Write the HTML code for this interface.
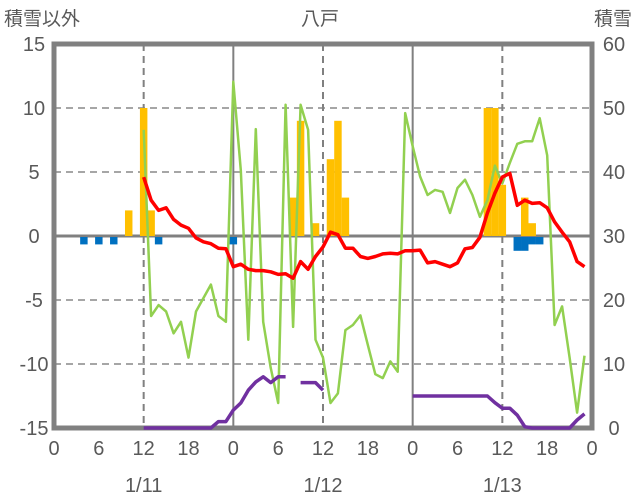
<!DOCTYPE html>
<html><head><meta charset="utf-8"><style>
body{margin:0;background:#fff;}
svg{display:block;font-family:"Liberation Sans","Noto Sans CJK JP",sans-serif;}
</style></head><body>
<svg id="chart" width="636" height="501" viewBox="0 0 636 501">
<g id="grid"></g>
<g id="bars"></g>
<g id="frame"></g>
<g id="lines"></g>
<g id="labels"></g>
<text x="4" y="25" font-size="19" fill="#595959">積雪以外</text>
<text x="320" y="25" font-size="19" fill="#595959" text-anchor="middle">八戸</text>
<text x="632" y="25" font-size="19" fill="#595959" text-anchor="end">積雪</text>
</svg>
<script>
const N=null;
const hourTicks=["0","6","12","18","0","6","12","18","0","6","12","18","0"];
const dateLabels=["1/11","1/12","1/13"];
const leftTicks=[15,10,5,0,-5,-10,-15];
const rightTicks=[60,50,40,30,20,10,0];
const tempSeries=[N,N,N,N,N,N,N,N,N,N,N,N,4.6,2.8,2.0,2.2,1.3,0.85,0.6,-0.15,-0.45,-0.6,-0.95,-1.0,
-2.4,-2.2,-2.6,-2.7,-2.7,-2.8,-3.0,-2.95,-3.3,-2.0,-2.6,-1.6,-0.85,0.3,0.1,-0.95,-0.95,-1.6,-1.75,-1.6,-1.4,-1.35,-1.4,-1.15,
-1.15,-1.1,-2.1,-2.0,-2.2,-2.4,-2.1,-1.0,-0.9,-0.1,1.8,3.35,4.6,4.9,2.4,2.8,2.55,2.6,2.2,1.1,0.3,-0.45,-2.0,-2.4];
const greenSeries=[N,N,N,N,N,N,N,N,N,N,N,N,8.3,-6.25,-5.4,-5.9,-7.6,-6.7,-9.5,-5.9,-4.85,-3.8,-6.25,-6.7,
12.05,5.15,-8.1,8.35,-6.7,-10.3,-13.05,10.25,-7.1,10.25,8.3,-8.1,-9.5,-13.05,-12.3,-7.35,-6.95,-6.2,-8.5,-10.8,-11.1,-9.8,-10.6,9.6,
7.0,4.65,3.2,3.6,3.45,1.8,3.75,4.4,3.2,1.5,2.8,5.5,4.1,5.7,7.2,7.4,7.4,9.2,6.3,-6.95,-5.5,-9.5,-13.8,-9.35];
const snowDepth=[N,N,N,N,N,N,N,N,N,N,N,N,0,0,0,0,0,0,0,0,0,0,1,1,
2.8,3.9,5.9,7.2,8.0,7.1,8.0,8.0,N,7.1,7.1,7.1,5.9,N,N,N,N,N,N,N,N,N,N,N,
5,5,5,5,5,5,5,5,5,5,5,3.95,3.1,3.1,2.0,0.2,0,0,0,0,0,0,1.25,2.2];
const snowfallHours=[10,12,13,32,33,35,37,38,39,58,59,60,63,64];
const snowfallValues=[2,10,2,3,9,1,6,9,3,10,10,4,3,1];
const negHours=[4,6,8,14,24,62,63,64,65];
const negValues=[-0.5,-0.5,-0.5,-0.5,-0.5,-1.0,-1.0,-0.5,-0.5];

const X0=54,X1=592,Y0=44,Y1=428;
const xs=h=>X0+h*(X1-X0)/72;
const yl=v=>Y0+(15-v)*(Y1-Y0)/30;
const yr=v=>Y1-v*(Y1-Y0)/60;
const NS="http://www.w3.org/2000/svg";
function mk(tag,parent,attrs){const e=document.createElementNS(NS,tag);for(const k in attrs)e.setAttribute(k,attrs[k]);document.getElementById(parent).appendChild(e);return e;}

leftTicks.forEach(v=>{if(v===15||v===-15)return;
 const l=mk('line','grid',{x1:X0,x2:X1,y1:yl(v),y2:yl(v),stroke:v===0?'#808080':'#a6a6a6','stroke-width':v===0?3:2,'stroke-dasharray':v===0?'':'7,5'});
 
 });
for(let h=12;h<72;h+=12){
 const solid=h%24===0;
 const l=mk('line','grid',{x1:xs(h),x2:xs(h),y1:Y0,y2:Y1,stroke:'#808080','stroke-width':2,'stroke-dasharray':solid?'':'7,5'});
 
 }

const bw=(X1-X0)/72;
snowfallHours.forEach((h,i)=>{const v=snowfallValues[i];
 const r=mk('rect','bars',{x:xs(h)-bw/2,y:yl(v),width:bw,height:yl(0)-yl(v),fill:'#ffc000'});
 
 });
negHours.forEach((h,i)=>{const v=negValues[i];
 const r=mk('rect','bars',{x:xs(h)-bw/2,y:yl(0)+1,width:bw,height:yl(v)-yl(0)+1,fill:'#0070c0'});
 
 });

const f=mk('rect','frame',{x:X0,y:Y0,width:X1-X0,height:Y1-Y0,fill:'none',stroke:'#808080','stroke-width':5});



function drawLine(arr,yf,color,name,w){
 let d='';let pen=false;
 arr.forEach((v,h)=>{if(v===null){pen=false;return;}d+=(pen?'L':'M')+xs(h).toFixed(1)+','+yf(v).toFixed(1);pen=true;});
 const p=mk('path','lines',{d:d,fill:'none',stroke:color,'stroke-width':w,'stroke-linejoin':'round'});
 
 }
drawLine(greenSeries,yl,'#92d050','green-series-line',2.5);
drawLine(tempSeries,yl,'#ff0000','temperature-line',3.5);
drawLine(snowDepth,yr,'#7030a0','snow-depth-line',3.5);

leftTicks.forEach(v=>{const t=mk('text','labels',{x:34,y:yl(v)+7,'font-size':20,fill:'#595959','text-anchor':'middle'});t.textContent=v;
 
 });
rightTicks.forEach(v=>{const t=mk('text','labels',{x:614,y:yr(v)+7,'font-size':20,fill:'#595959','text-anchor':'middle'});t.textContent=v;
 
 });
hourTicks.forEach((s,i)=>{const t=mk('text','labels',{x:xs(i*6),y:455,'font-size':20,fill:'#595959','text-anchor':'middle'});t.textContent=s;
 
 });
dateLabels.forEach((s,i)=>{const t=mk('text','labels',{x:xs(12+24*i),y:492,'font-size':20,fill:'#595959','text-anchor':'middle'});t.textContent=s;
 
 });
</script>
</body></html>
